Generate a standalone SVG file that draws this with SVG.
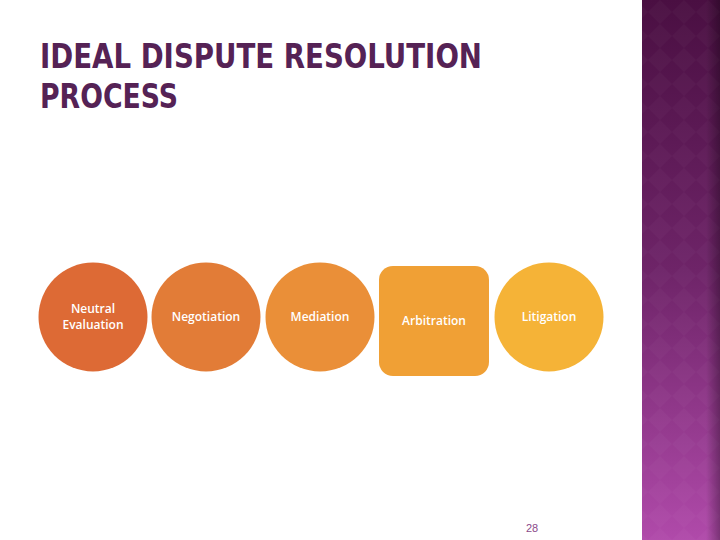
<svg xmlns="http://www.w3.org/2000/svg" width="720" height="540" viewBox="0 0 720 540">
<defs>
<linearGradient id="bar" x1="0" y1="0" x2="0" y2="1">
<stop offset="0" stop-color="#4a0f42"/>
<stop offset="0.5" stop-color="#6e2468"/>
<stop offset="1" stop-color="#b04aaa"/>
</linearGradient>
<pattern id="dia" width="24" height="24" patternUnits="userSpaceOnUse">
<path d="M12 0 L24 12 L12 24 L0 12 Z" fill="#ffffff" fill-opacity="0.022"/>
</pattern>
<linearGradient id="edge" x1="0" y1="0" x2="1" y2="0">
<stop offset="0" stop-color="#000" stop-opacity="0"/>
<stop offset="1" stop-color="#000" stop-opacity="0.3"/>
</linearGradient>
</defs>
<style>
.title{font-family:"DejaVu Sans Condensed","Liberation Sans",sans-serif;font-weight:bold;font-size:33px;fill:#552255}
.lbl{font-family:"Open Sans","Liberation Sans",sans-serif;font-weight:600;font-size:12px;fill:#ffffff;text-anchor:middle}
.pg{font-family:"Liberation Sans",sans-serif;font-size:11px;fill:#8a4a8a;text-anchor:middle}
</style>
<rect width="720" height="540" fill="#ffffff"/>
<g id="sidebar">
<rect x="642" y="0" width="78" height="540" fill="url(#bar)"/>
<rect x="642" y="0" width="78" height="540" fill="url(#dia)"/>
<rect x="706" y="0" width="14" height="540" fill="url(#edge)"/>
</g>
<g id="title">
<text class="title" x="40" y="68" textLength="442" lengthAdjust="spacingAndGlyphs">IDEAL DISPUTE RESOLUTION</text>
<text class="title" x="40" y="108" textLength="138" lengthAdjust="spacingAndGlyphs">PROCESS</text>
</g>
<g id="connectors"></g>
<g id="neutral-evaluation">
<circle cx="93" cy="317" r="54.5" fill="#dd6a35"/>
<text class="lbl" x="93" y="313">Neutral</text>
<text class="lbl" x="93" y="329">Evaluation</text>
</g>
<g id="negotiation">
<circle cx="206" cy="317" r="54.5" fill="#e27c37"/>
<text class="lbl" x="206" y="321">Negotiation</text>
</g>
<g id="mediation">
<circle cx="320" cy="317" r="54.5" fill="#ea8f38"/>
<text class="lbl" x="320" y="321">Mediation</text>
</g>
<g id="arbitration">
<rect x="379" y="266" width="110" height="110" rx="14" fill="#f0a035"/>
<text class="lbl" x="434" y="325">Arbitration</text>
</g>
<g id="litigation">
<circle cx="549" cy="317" r="54.5" fill="#f5b337"/>
<text class="lbl" x="549" y="321">Litigation</text>
</g>
<g id="page-number">
<text class="pg" x="532" y="532">28</text>
</g>
</svg>
